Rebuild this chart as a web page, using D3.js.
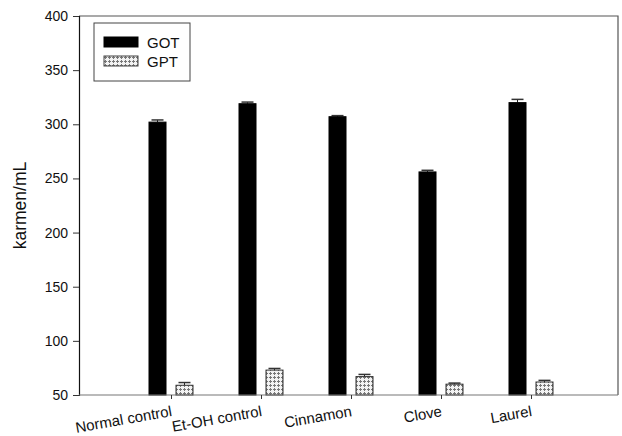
<!DOCTYPE html>
<html>
<head>
<meta charset="utf-8">
<script src="https://cdn.jsdelivr.net/npm/d3@7"></script>
<style>
  html, body { margin: 0; padding: 0; background: #fff; }
  svg { display: block; font-family: "Liberation Sans", Arial, sans-serif; }
</style>
</head>
<body>
<svg id="chart" width="622" height="436"></svg>
<script>
// Enzyme activity per treatment group
const categories = ["Normal control", "Et-OH control", "Cinnamon", "Clove", "Laurel"];
const series = ["GOT", "GPT"];
const gotValues = [302, 319, 307, 256, 320];
const gotErrors = [2, 1.5, 1, 1.5, 3];
const gptValues = [59, 73, 67, 60, 62];
const gptErrors = [2.5, 1.5, 2, 1, 1.5];
const yTicks = [50, 100, 150, 200, 250, 300, 350, 400];
const yLabel = "karmen/mL";

const svg = d3.select("#chart");
const frame = { left: 79, right: 618, top: 16, bottom: 395 };

// Hatched fill used for GPT bars
const defs = svg.append("defs");
const pat = defs.append("pattern")
  .attr("id", "dots").attr("patternUnits", "userSpaceOnUse")
  .attr("width", 4).attr("height", 4);
pat.append("rect").attr("width", 4).attr("height", 4).attr("fill", "#f2f2f2");
pat.append("rect").attr("x", 1).attr("y", 0).attr("width", 1).attr("height", 3).attr("fill", "#777");
pat.append("rect").attr("x", 0).attr("y", 1).attr("width", 3).attr("height", 1).attr("fill", "#777");

const y = d3.scaleLinear().domain([50, 400]).range([frame.bottom, frame.top]);
const x = d3.scalePoint().domain(categories).range([171, 531]);
const xSub = d3.scaleBand().domain(series).range([-22, 22]).paddingInner(0.37).paddingOuter(0);

const data = categories.map((c, i) => ({
  cat: c,
  bars: [
    { key: "GOT", value: gotValues[i], err: gotErrors[i] },
    { key: "GPT", value: gptValues[i], err: gptErrors[i] }
  ]
}));

// Plot frame (top and right edges)
svg.append("path")
  .attr("d", `M${frame.left},${frame.top}H${frame.right}V${frame.bottom}`)
  .attr("fill", "none").attr("stroke", "#555").attr("stroke-width", 1.2);

// Bars
const groups = svg.append("g").selectAll("g").data(data).join("g")
  .attr("transform", d => `translate(${x(d.cat)},0)`);

groups.selectAll("g.err").data(d => d.bars).join("g").attr("class", "err").each(function (b) {
  const g = d3.select(this);
  const cx = xSub(b.key) + xSub.bandwidth() / 2;
  const top = y(b.value + b.err);
  g.append("line").attr("x1", cx).attr("x2", cx)
    .attr("y1", y(b.value)).attr("y2", top)
    .attr("stroke", "#222").attr("stroke-width", 1);
  g.append("line").attr("x1", cx - 6).attr("x2", cx + 6)
    .attr("y1", top).attr("y2", top)
    .attr("stroke", "#333").attr("stroke-width", 1.5);
});

groups.selectAll("rect").data(d => d.bars).join("rect")
  .attr("x", b => xSub(b.key))
  .attr("width", xSub.bandwidth())
  .attr("y", b => y(b.value))
  .attr("height", b => y(50) - y(b.value))
  .attr("fill", b => b.key === "GOT" ? "#000" : "url(#dots)")
  .attr("stroke", b => b.key === "GOT" ? "#000" : "#333")
  .attr("stroke-width", 1);

// Y axis
const yAxis = svg.append("g")
  .attr("transform", `translate(${frame.left},0)`)
  .call(d3.axisLeft(y).tickValues(yTicks).tickSize(6).tickPadding(5).tickFormat(d3.format("d")));
yAxis.select(".domain").attr("stroke", "#111").attr("stroke-width", 1.2);
yAxis.selectAll(".tick line").attr("stroke", "#333");
yAxis.selectAll("text").attr("font-size", 14).attr("fill", "#111")
  .attr("font-family", "Liberation Sans, Arial, sans-serif");

// X axis
const xAxis = svg.append("g")
  .attr("transform", `translate(0,${frame.bottom})`)
  .call(d3.axisBottom(x).tickSize(4).tickFormat(""));
xAxis.select(".domain").attr("d", `M${frame.left},0H${frame.right}`)
  .attr("stroke", "#777").attr("stroke-width", 1.2);
xAxis.selectAll(".tick line").attr("stroke", "#333");

xAxis.selectAll(".tick").append("text")
  .text(d => d)
  .attr("text-anchor", "end")
  .attr("transform", "translate(1,21) rotate(-10)")
  .attr("font-size", 15)
  .attr("fill", "#111")
  .attr("font-family", "Liberation Sans, Arial, sans-serif");

// Y label
svg.append("text")
  .attr("transform", `translate(26,${(frame.top + frame.bottom) / 2}) rotate(-90)`)
  .attr("text-anchor", "middle")
  .attr("font-size", 17.5).attr("fill", "#111")
  .text(yLabel);

// Legend
const legend = svg.append("g");
legend.append("rect")
  .attr("x", 94).attr("y", 23).attr("width", 96).attr("height", 58)
  .attr("fill", "#fff").attr("stroke", "#444").attr("stroke-width", 1);
series.forEach((s, i) => {
  const yy = 37 + i * 19;
  legend.append("rect")
    .attr("x", 104).attr("y", yy).attr("width", 34).attr("height", 10)
    .attr("fill", s === "GOT" ? "#000" : "url(#dots)")
    .attr("stroke", s === "GOT" ? "#000" : "#444");
  legend.append("text")
    .attr("x", 147).attr("y", yy + 10.5)
    .attr("font-size", 15).attr("fill", "#111")
    .text(s);
});
</script>
</body>
</html>
